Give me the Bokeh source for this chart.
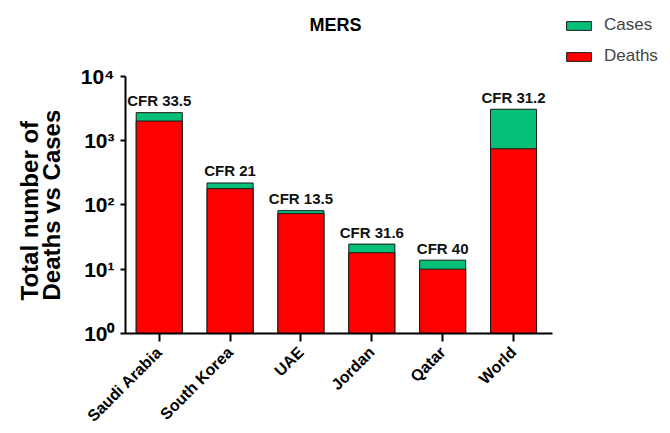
import math
from bokeh.plotting import figure
from bokeh.models import (Range1d, FixedTicker, Legend, LegendItem, Label,
                          Title)
from bokeh.core.properties import value
from bokeh.embed import file_html
from bokeh.resources import INLINE

countries = ["Saudi Arabia", "South Korea", "UAE", "Jordan", "Qatar", "World"]
cases = [2700, 218, 81, 24.5, 13.8, 3050]
deaths = [2000, 178, 73, 18, 10, 740]
cfr_labels = ["CFR 33.5", "CFR 21", "CFR 13.5", "CFR 31.6", "CFR 40", "CFR 31.2"]
y_ticks = [1, 10, 100, 1000, 10000]
y_tick_labels = ["10\u2070", "10\u00b9", "10\u00b2", "10\u00b3", "10\u2074"]

FONT = "Liberation Sans"
GREEN = "#05BE78"
RED = "#FF0000"
EDGE = "#1a1a1a"

xs = list(range(len(countries)))

# layout geometry (canvas pixels)
W, H = 670, 433
LEFT, BOTTOM = 125, 98
FRAME_W = W - LEFT
FRAME_H = H - BOTTOM
AXIS_W = 427           # length of the x axis line
AXIS_H = FRAME_H - 76  # pixels from 10^0 to 10^4
X0, X1 = -0.476, 5.55
x_end = X0 + (X1 - X0) * FRAME_W / AXIS_W
y_top = 10 ** (4 * FRAME_H / AXIS_H)

p = figure(width=W, height=H, y_axis_type="log", title=None,
           x_range=Range1d(X0, x_end), y_range=Range1d(1, y_top),
           output_backend="svg", toolbar_location=None,
           min_border_left=LEFT, min_border_right=0,
           min_border_top=0, min_border_bottom=BOTTOM)

r_cases = p.vbar(x=xs, top=cases, bottom=1, width=0.65,
                 fill_color=GREEN, line_color=EDGE, line_width=1)
r_deaths = p.vbar(x=xs, top=deaths, bottom=1, width=0.65,
                  fill_color=RED, line_color=EDGE, line_width=1)

p.text(x=xs, y=cases, text=cfr_labels, text_align="center",
       text_baseline="alphabetic", y_offset=-12,
       text_font=value(FONT), text_font_size="15px",
       text_font_style="bold", text_color="#111111")

title = Label(x=210, y=FRAME_H - 26.7, x_units="screen", y_units="screen",
              text="MERS", text_align="center", text_baseline="alphabetic",
              text_font=FONT, text_font_size="18px", text_font_style="bold",
              text_color="black")
p.add_layout(title)

p.grid.visible = False
p.outline_line_color = None

# x axis
xa = p.xaxis[0]
xa.bounds = (X0, X1)
xa.ticker = FixedTicker(ticks=xs)
xa.major_label_overrides = {i: c for i, c in enumerate(countries)}
xa.major_label_orientation = math.pi / 4
xa.major_label_text_font = FONT
xa.major_label_text_font_size = "16px"
xa.major_label_text_font_style = "bold"
xa.major_label_text_color = "black"
xa.major_label_standoff = 8
xa.axis_line_width = 2
xa.axis_line_color = "black"
xa.major_tick_line_width = 2
xa.major_tick_out = 8
xa.major_tick_in = 0
xa.minor_tick_line_color = None

# y axis
ya = p.yaxis[0]
ya.bounds = (1, 10000)
ya.ticker = FixedTicker(ticks=y_ticks, minor_ticks=[])
ya.major_label_overrides = {t: l for t, l in zip(y_ticks, y_tick_labels)}
ya.major_label_text_font = FONT
ya.major_label_text_font_size = "21px"
ya.major_label_text_font_style = "bold"
ya.major_label_text_color = "black"
ya.major_label_standoff = 6
ya.axis_line_width = 2
ya.axis_line_color = "black"
ya.major_tick_line_width = 2
ya.major_tick_out = 5
ya.major_tick_in = 0
ya.minor_tick_line_color = None

# two-line y axis title, placed along the 10^0..10^4 axis span
y_title = Title(text="Total number of\nDeaths vs Cases", align="left",
                offset=33, standoff=24, text_line_height=0.85,
                text_font=FONT, text_font_size="24px", text_font_style="bold",
                text_color="black")
p.add_layout(y_title, "left")

legend = Legend(items=[LegendItem(label="Cases", renderers=[r_cases]),
                       LegendItem(label="Deaths", renderers=[r_deaths])],
                location=(438, FRAME_H - 68.2), orientation="vertical",
                glyph_width=31, glyph_height=11, label_standoff=10,
                label_text_font=FONT, label_text_font_size="17px",
                label_height=20, spacing=11, padding=0, margin=0,
                border_line_color=None, background_fill_alpha=0)
p.add_layout(legend, "center")

open("out.html", "w").write(file_html(p, INLINE))
